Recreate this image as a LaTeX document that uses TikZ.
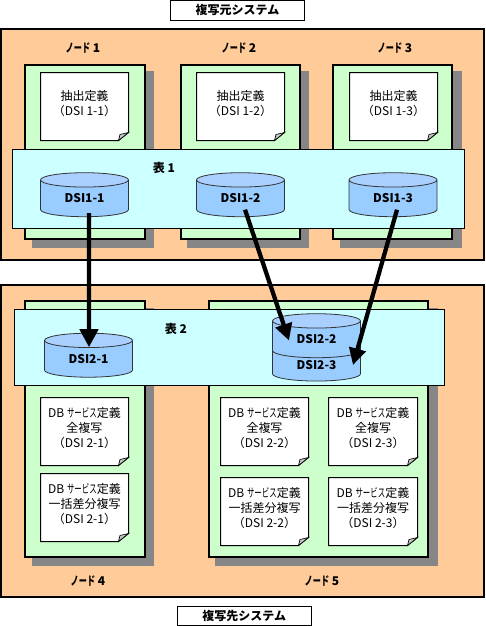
\documentclass[tikz,border=0pt]{standalone}
\usepackage{fontspec}
\setmainfont{Noto Sans CJK JP}
\usetikzlibrary{arrows.meta,shapes.geometric}
\definecolor{sysfill}{HTML}{FFCC99}
\definecolor{nodefill}{HTML}{CCFFCC}
\definecolor{tblfill}{HTML}{CCFFFF}
\definecolor{cylbody}{HTML}{99CCFF}
\definecolor{cyltop}{HTML}{AAD0FF}
\definecolor{shadowgray}{HTML}{868686}
\definecolor{foldgray}{HTML}{C8C8C8}
\newcommand{\nodeword}{\scalebox{0.68}[1]{ノード}}
\newcommand{\svcword}{\scalebox{0.62}[1]{サービス}}
\tikzset{
  box/.style={rectangle,inner sep=0pt,outer sep=0pt},
  sysbox/.style={box,draw=black,line width=1.5pt,fill=sysfill},
  nodebox/.style={box,draw=black,line width=1.5pt,fill=nodefill},
  shadowbox/.style={box,fill=shadowgray},
  tblbox/.style={box,draw=black,line width=.75pt,fill=tblfill},
  titlebox/.style={box,draw=black,line width=.75pt,fill=white,font=\fontsize{9}{11}\selectfont\bfseries},
  lbl/.style={inner sep=0pt,font=\fontsize{9}{11}\selectfont\bfseries},
  doctext/.style={inner sep=0pt,align=center,font=\fontsize{9}{11.25}\selectfont},
  cyl/.style={cylinder,shape border rotate=90,aspect=0.36,draw=black!80,line width=.6pt,
    cylinder uses custom fill,cylinder body fill=cylbody,cylinder end fill=cyltop,
    minimum width=66pt,inner sep=0pt,outer sep=0pt,
    font=\fontsize{9}{11}\selectfont\bfseries},
  flow/.style={line width=3.2pt,-{Triangle[width=12.5pt,length=12.5pt]}},
  flowbig/.style={line width=3.2pt,-{Triangle[width=13.5pt,length=13.5pt]}},
}
% \rectn[style]{name}{x1}{y1}{x2}{y2}{text}
\newcommand{\rectn}[7][]{%
  \pgfmathsetmacro{\rw}{(#5-#3)*0.75}%
  \pgfmathsetmacro{\rh}{(#6-#4)*0.75}%
  \pgfmathsetmacro{\rx}{(#5+#3)/2}%
  \pgfmathsetmacro{\ry}{(#6+#4)/2}%
  \node[#1,minimum width=\rw pt,minimum height=\rh pt] (#2) at (\rx,\ry) {#7};}
% \docn{name}{x1}{y1}{x2}{y2}{text}
\newcommand{\docn}[6]{%
  \pgfmathsetmacro{\fx}{#4-10}%
  \pgfmathsetmacro{\fy}{#5-8}%
  \pgfmathsetmacro{\ix}{#4-8.5}%
  \pgfmathsetmacro{\iy}{#5-6}%
  \pgfmathsetmacro{\tx}{(#2+#4)/2}%
  \pgfmathsetmacro{\ty}{(#3+#5)/2-3}%
  \fill[white,draw=black,line width=.75pt] (#2,#3) -- (#4,#3) -- (#4,\fy) -- (\fx,#5) -- (#2,#5) -- cycle;
  \filldraw[fill=foldgray,draw=black,line width=.5pt] (\fx,#5) -- (\ix,\iy) -- (#4,\fy) -- cycle;
  \node[doctext] (#1) at (\tx,\ty) {#6};}
\begin{document}
\begin{tikzpicture}[x=0.75pt,y=-0.75pt]
\useasboundingbox (0,0) rectangle (486,626);
\fill[white] (0,0) rectangle (486,626);
% systems
\rectn[titlebox]{srctitle}{170.5}{0.5}{304.5}{20}{複写元システム}
\rectn[sysbox]{srcsys}{1}{29}{484}{260}{}
\rectn[sysbox]{dstsys}{1}{285}{484}{597}{}
\rectn[titlebox]{dsttitle}{177.5}{606}{311}{625}{複写先システム}
% source nodes
\rectn[shadowbox]{s1}{32}{71}{154}{248}{}
\rectn[shadowbox]{s2}{187}{71}{309}{248}{}
\rectn[shadowbox]{s3}{340}{71}{462}{248}{}
\rectn[nodebox]{n1}{25}{65}{145}{239}{}
\rectn[nodebox]{n2}{181}{65}{300}{239}{}
\rectn[nodebox]{n3}{333}{65}{452}{239}{}
\node[lbl] (ln1) at (83,48) {\nodeword\ 1};
\node[lbl] (ln2) at (239,48) {\nodeword\ 2};
\node[lbl] (ln3) at (395,48) {\nodeword\ 3};
\docn{d1}{40.5}{72.5}{128.5}{140.5}{抽出定義\\（DSI 1-1）}
\docn{d2}{196.5}{72.5}{284.5}{140.5}{抽出定義\\（DSI 1-2）}
\docn{d3}{349.5}{72.5}{437.5}{140.5}{抽出定義\\（DSI 1-3）}
% destination nodes
\rectn[shadowbox]{s4}{32}{308}{154}{566}{}
\rectn[shadowbox]{s5}{215}{308}{438}{566}{}
\rectn[nodebox]{n4}{25}{301}{145}{557}{}
\rectn[nodebox]{n5}{209}{301}{428}{557}{}
\node[lbl] (ln4) at (88,581) {\nodeword\ 4};
\node[lbl] (ln5) at (322,581) {\nodeword\ 5};
\docn{d4}{40.5}{397.5}{128.5}{465.5}{DB \svcword 定義\\全複写\\（DSI 2-1）}
\docn{d5}{40.5}{473.5}{128.5}{541.5}{DB \svcword 定義\\一括差分複写\\（DSI 2-1）}
\docn{d6}{220.5}{397.5}{308.5}{465.5}{DB \svcword 定義\\全複写\\（DSI 2-2）}
\docn{d7}{328.5}{397.5}{417.5}{465.5}{DB \svcword 定義\\全複写\\（DSI 2-3）}
\docn{d8}{220.5}{477.5}{308.5}{545.5}{DB \svcword 定義\\一括差分複写\\（DSI 2-2）}
\docn{d9}{328.5}{477.5}{417.5}{545.5}{DB \svcword 定義\\一括差分複写\\（DSI 2-3）}
% tables
\rectn[tblbox]{t1}{12.5}{149.5}{464.5}{228.5}{}
\rectn[tblbox]{t2}{14.5}{309.5}{444.5}{385.5}{}
\node[lbl] (lt1) at (164,168) {表 1};
\node[lbl] (lt2) at (176,329) {表 2};
% cylinders
\node[cyl,minimum height=33pt] (c11) at (84.5,198.5) {DSI1-1};
\node[cyl,minimum height=33pt] (c12) at (240.5,198.5) {DSI1-2};
\node[cyl,minimum height=33pt] (c13) at (393,198.5) {DSI1-3};
\node[cyl,minimum height=33pt] (c21) at (88.5,359) {DSI2-1};
\node[cyl,minimum height=29pt] (c23) at (316.5,365.5) {\raisebox{-2.2pt}{DSI2-3}};
\node[cyl,minimum height=33pt] (c22) at (316.5,339.5) {\raisebox{-1.5pt}{DSI2-2}};
% connectors
\draw[flowbig] ([shift={(4.5,-3.5)}]c11.south) -- ([shift={(0.5,14)}]c21.north);
\draw[flow] ([shift={(4.5,-7)}]c12.south) -- ([shift={(-27.5,1)}]c22.center);
\draw[flow] ([shift={(4,-7)}]c13.south) -- ([shift={(36.5,-0.5)}]c23.center);
\end{tikzpicture}
\end{document}
